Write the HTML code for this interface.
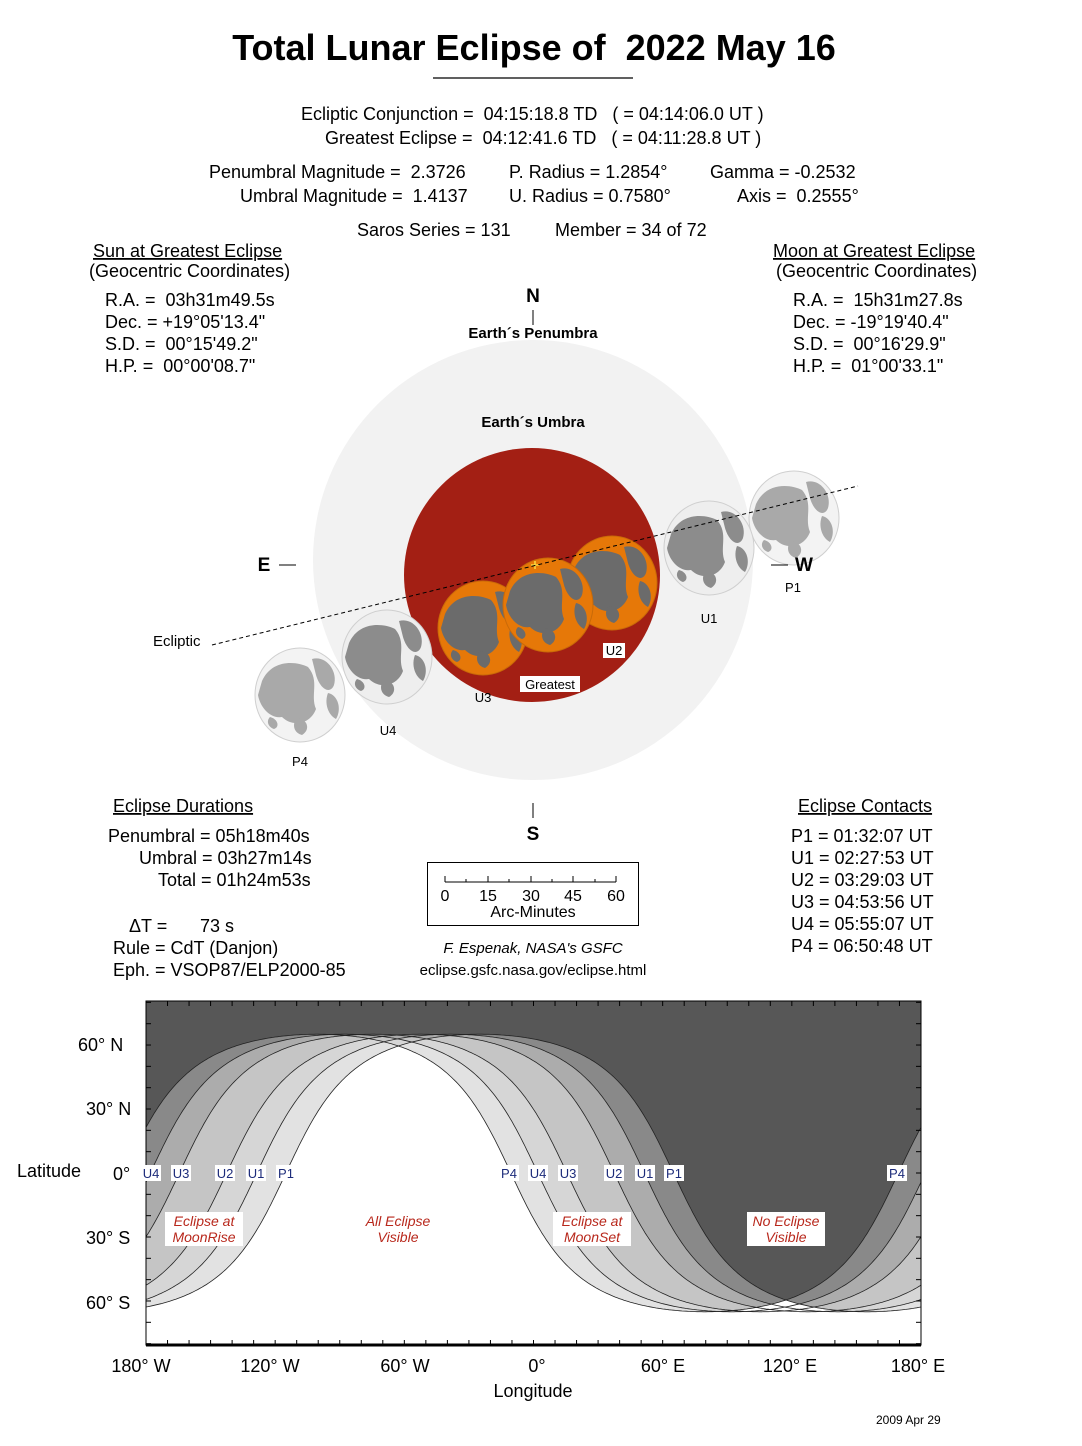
<!DOCTYPE html>
<html><head><meta charset="utf-8"><style>
html,body{margin:0;padding:0;background:#fff;}
svg{display:block;}
text{font-family:"Liberation Sans",Arial,sans-serif;fill:#000;}
.t17{font-size:18px;}
.lab{font-size:13px;fill:#1c2b7a;}
</style></head><body>
<svg id="s" width="1082" height="1446" viewBox="0 0 1082 1446" xmlns="http://www.w3.org/2000/svg">
<rect width="1082" height="1446" fill="#fff"/>
<text x="534" y="60" text-anchor="middle" font-size="36" font-weight="bold" xml:space="preserve">Total Lunar Eclipse of  2022 May 16</text>
<line x1="433" y1="78" x2="633" y2="78" stroke="#000" stroke-width="1.2"/>
<g class="t17">
<text x="301" y="120" xml:space="preserve">Ecliptic Conjunction =  04:15:18.8 TD   ( = 04:14:06.0 UT )</text>
<text x="325" y="144" xml:space="preserve">Greatest Eclipse =  04:12:41.6 TD   ( = 04:11:28.8 UT )</text>
<text x="209" y="178" xml:space="preserve">Penumbral Magnitude =  2.3726</text>
<text x="509" y="178">P. Radius = 1.2854°</text>
<text x="710" y="178">Gamma = -0.2532</text>
<text x="240" y="202" xml:space="preserve">Umbral Magnitude =  1.4137</text>
<text x="509" y="202">U. Radius = 0.7580°</text>
<text x="737" y="202" xml:space="preserve">Axis =  0.2555°</text>
<text x="357" y="236">Saros Series = 131</text>
<text x="555" y="236">Member = 34 of 72</text>
<text x="93" y="257" text-decoration="underline">Sun at Greatest Eclipse</text>
<text x="89" y="277">(Geocentric Coordinates)</text>
<text x="105" y="306" xml:space="preserve">R.A. =  03h31m49.5s</text>
<text x="105" y="328">Dec. = +19°05'13.4"</text>
<text x="105" y="350" xml:space="preserve">S.D. =  00°15'49.2"</text>
<text x="105" y="372" xml:space="preserve">H.P. =  00°00'08.7"</text>
<text x="773" y="257" text-decoration="underline">Moon at Greatest Eclipse</text>
<text x="776" y="277">(Geocentric Coordinates)</text>
<text x="793" y="306" xml:space="preserve">R.A. =  15h31m27.8s</text>
<text x="793" y="328">Dec. = -19°19'40.4"</text>
<text x="793" y="350" xml:space="preserve">S.D. =  00°16'29.9"</text>
<text x="793" y="372" xml:space="preserve">H.P. =  01°00'33.1"</text>
<text x="113" y="812" text-decoration="underline">Eclipse Durations</text>
<text x="108" y="842">Penumbral = 05h18m40s</text>
<text x="139" y="864">Umbral = 03h27m14s</text>
<text x="158" y="886">Total = 01h24m53s</text>
<text x="129" y="932">ΔT =</text>
<text x="200" y="932">73 s</text>
<text x="113" y="954">Rule = CdT (Danjon)</text>
<text x="113" y="976">Eph. = VSOP87/ELP2000-85</text>
<text x="798" y="812" text-decoration="underline">Eclipse Contacts</text>
<text x="791" y="842">P1 = 01:32:07 UT</text>
<text x="791" y="864">U1 = 02:27:53 UT</text>
<text x="791" y="886">U2 = 03:29:03 UT</text>
<text x="791" y="908">U3 = 04:53:56 UT</text>
<text x="791" y="930">U4 = 05:55:07 UT</text>
<text x="791" y="952">P4 = 06:50:48 UT</text>
</g>
<circle cx="533" cy="560" r="220" fill="#f2f2f2"/>
<ellipse cx="532" cy="575" rx="128" ry="127" fill="#a31f14"/>
<text x="533" y="302" text-anchor="middle" font-size="19" font-weight="bold">N</text>
<line x1="533" y1="310" x2="533" y2="325" stroke="#000"/>
<text x="533" y="338" text-anchor="middle" font-size="15" font-weight="bold">Earth´s Penumbra</text>
<text x="533" y="427" text-anchor="middle" font-size="15" font-weight="bold">Earth´s Umbra</text>
<line x1="533" y1="803" x2="533" y2="818" stroke="#000"/>
<text x="533" y="840" text-anchor="middle" font-size="19" font-weight="bold">S</text>
<defs>
<g id="maria">
<path d="M-38,-14 C-28,-36 -4,-34 8,-28 C20,-14 10,0 16,14 C10,30 -8,32 -18,22 C-30,24 -40,12 -42,0 Z"/>
<path d="M12,-36 C26,-40 38,-24 34,-10 C30,0 20,-6 16,-20 Z"/>
<path d="M28,-2 C38,0 42,14 36,24 C28,20 24,8 28,-2 Z"/>
<path d="M-4,24 C6,22 12,34 2,40 C-6,38 -8,30 -4,24 Z"/>
<path d="M-30,22 C-22,24 -20,32 -26,34 C-32,32 -34,26 -30,22 Z"/>
</g>
</defs>
<g id="moons"></g>
<line x1="212" y1="645" x2="858" y2="486" stroke="#000" stroke-dasharray="4,3" stroke-width="1"/>
<text x="264" y="571" text-anchor="middle" font-size="19" font-weight="bold">E</text>
<line x1="279" y1="565" x2="296" y2="565" stroke="#000"/>
<text x="804" y="571" text-anchor="middle" font-size="19" font-weight="bold">W</text>
<line x1="771" y1="565" x2="788" y2="565" stroke="#000"/>
<text x="153" y="646" font-size="15">Ecliptic</text>
<rect x="603" y="643" width="22" height="15" fill="#fff"/>
<rect x="520" y="676" width="60" height="16" fill="#fff"/>
<g class="lab">
<text x="793" y="592" text-anchor="middle">P1</text>
<text x="709" y="623" text-anchor="middle">U1</text>
<text x="614" y="655" text-anchor="middle">U2</text>
<text x="550" y="689" text-anchor="middle">Greatest</text>
<text x="483" y="702" text-anchor="middle">U3</text>
<text x="388" y="735" text-anchor="middle">U4</text>
<text x="300" y="766" text-anchor="middle">P4</text>
</g>
<rect x="427.5" y="862.5" width="211" height="63" fill="none" stroke="#000"/>
<line x1="445" y1="882" x2="616" y2="882" stroke="#000"/>
<g stroke="#000"><line x1="445" y1="876" x2="445" y2="882"/><line x1="466" y1="879" x2="466" y2="882"/><line x1="488" y1="876" x2="488" y2="882"/><line x1="509" y1="879" x2="509" y2="882"/><line x1="531" y1="876" x2="531" y2="882"/><line x1="552" y1="879" x2="552" y2="882"/><line x1="573" y1="876" x2="573" y2="882"/><line x1="595" y1="879" x2="595" y2="882"/><line x1="616" y1="876" x2="616" y2="882"/></g>
<g font-size="16" text-anchor="middle"><text x="445" y="901">0</text><text x="488" y="901">15</text><text x="531" y="901">30</text><text x="573" y="901">45</text><text x="616" y="901">60</text><text x="533" y="917">Arc-Minutes</text></g>
<text x="533" y="953" text-anchor="middle" font-size="15" font-style="italic">F. Espenak, NASA's GSFC</text>
<text x="533" y="975" text-anchor="middle" font-size="15">eclipse.gsfc.nasa.gov/eclipse.html</text>
<clipPath id="mc"><rect x="146" y="1001" width="775" height="344"/></clipPath>
<rect x="146" y="1001" width="775" height="344" fill="#575757"/>
<g id="bands" clip-path="url(#mc)"></g>
<rect x="146" y="1001" width="775" height="344" fill="none" stroke="#000" stroke-width="1"/>
<line x1="146" y1="1345" x2="921" y2="1345" stroke="#000" stroke-width="3"/>
<g id="ticks" stroke="#000"></g>
<g id="maplabs"></g>
<g id="redlabs"></g>
<g class="t17">
<text x="78" y="1051">60° N</text>
<text x="86" y="1115">30° N</text>
<text x="113" y="1180">0°</text>
<text x="86" y="1244">30° S</text>
<text x="86" y="1309">60° S</text>
<text x="141" y="1372" text-anchor="middle">180° W</text>
<text x="270" y="1372" text-anchor="middle">120° W</text>
<text x="405" y="1372" text-anchor="middle">60° W</text>
<text x="537" y="1372" text-anchor="middle">0°</text>
<text x="663" y="1372" text-anchor="middle">60° E</text>
<text x="790" y="1372" text-anchor="middle">120° E</text>
<text x="918" y="1372" text-anchor="middle">180° E</text>
</g>
<text x="17" y="1177" font-size="18">Latitude</text>
<text x="533" y="1397" text-anchor="middle" font-size="18">Longitude</text>
<text x="876" y="1424" font-size="12">2009 Apr 29</text>
</svg>
<script>
(function(){
var NS="http://www.w3.org/2000/svg";
function el(n,a,p){var e=document.createElementNS(NS,n);for(var k in a)e.setAttribute(k,a[k]);p.appendChild(e);return e;}
var mg=document.getElementById("moons");
var moons=[[794,518,0],[709,548,1],[387,657,1],[300,695,0],[612,583,2],[483,628,2],[548,605,2]];
moons.forEach(function(m){
 var g=el("g",{transform:"translate("+m[0]+","+m[1]+")"},mg);
 var fill=m[2]==2?"#e67808":(m[2]==1?"#eeeeee":"#f3f3f3");
 var st=m[2]==2?"#c96a08":"#cfcfcf";
 var mf=m[2]==2?"#6b6b6b":(m[2]==1?"#8c8c8c":"#a9a9a9");
 el("ellipse",{cx:0,cy:0,rx:45,ry:47,fill:fill,stroke:st,"stroke-width":1},g);
 el("use",{href:"#maria",fill:mf},g);
});
el("path",{d:"M531,565 h8 M535,561 v8",stroke:"#ffe84a","stroke-width":1.3},mg);
var x0=146,w=775,yc=1173,sy=2.133;
function X(l){return x0+(l+180)/360*w;}
function Y(p){return yc-p*sy;}
var td=2.15,R=Math.PI/180;
function phi(l,c){return Math.atan(td*Math.cos((l-c)*R))/R;}
var cs=[-25,-38.5,-52.5,-74.5,-88,-100.5];
var bg=document.getElementById("bands");
function pathFor(f){var d="";for(var l=-180;l<=180;l+=1){d+=(l==-180?"M":"L")+X(l).toFixed(1)+","+Y(f(l)).toFixed(1);}return d;}
cs.forEach(function(c){
 el("path",{d:pathFor(function(l){return phi(l,c);})+"L921,1350L146,1350Z",fill:"#fff","fill-opacity":0.3},bg);
});
el("path",{d:pathFor(function(l){return Math.min(phi(l,-25),phi(l,-100.5));})+"L921,1350L146,1350Z",fill:"#fff"},bg);
cs.forEach(function(c){
 el("path",{d:pathFor(function(l){return phi(l,c);}),fill:"none",stroke:"#222","stroke-width":0.8},bg);
});
var tk=document.getElementById("ticks");
for(var l=-180;l<=180;l+=10){el("line",{x1:X(l),y1:1001,x2:X(l),y2:1006},tk);el("line",{x1:X(l),y1:1340,x2:X(l),y2:1345},tk);}
for(var p=-80;p<=80;p+=10){el("line",{x1:146,y1:Y(p),x2:151,y2:Y(p)},tk);el("line",{x1:916,y1:Y(p),x2:921,y2:Y(p)},tk);}
var ml=document.getElementById("maplabs");
[["U4",151],["U3",181],["U2",225],["U1",256],["P1",286],["P4",509],["U4",538],["U3",568],["U2",614],["U1",645],["P1",674],["P4",897]].forEach(function(a){
 el("rect",{x:a[1]-10,y:1165,width:20,height:16,fill:"#fff"},ml);
 var t=el("text",{x:a[1],y:1178,"text-anchor":"middle",style:"font-size:13px;fill:#1c2b7a"},ml);t.textContent=a[0];
});
var rl=document.getElementById("redlabs");
[["Eclipse at","MoonRise",204],["All Eclipse","Visible",398],["Eclipse at","MoonSet",592],["No Eclipse","Visible",786]].forEach(function(a){
 el("rect",{x:a[2]-39,y:1212,width:78,height:34,fill:"#fff"},rl);
 var st="font-size:14px;fill:#b8281c;font-style:italic";
 var t=el("text",{x:a[2],y:1226,"text-anchor":"middle",style:st},rl);t.textContent=a[0];
 t=el("text",{x:a[2],y:1242,"text-anchor":"middle",style:st},rl);t.textContent=a[1];
});
})();
</script>
</body></html>
